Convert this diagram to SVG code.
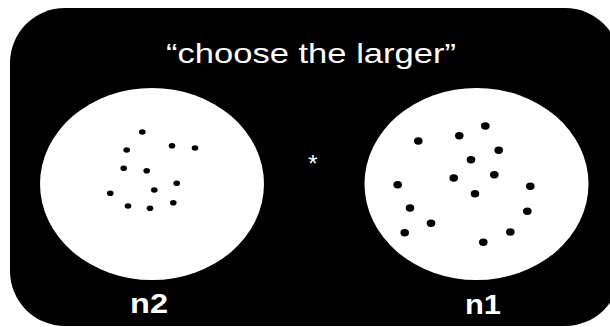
<svg xmlns="http://www.w3.org/2000/svg" width="610" height="327" viewBox="0 0 610 327">
<style>
.bg{fill:#000}
.disc{fill:#fff}
.d{fill:#000}
.title{font-family:"Liberation Sans",Arial,sans-serif;font-size:28px;fill:#fff}
.lbl{font-family:"Liberation Sans",Arial,sans-serif;font-size:28px;font-weight:bold;fill:#fff}
</style>
<rect width="610" height="327" fill="#fff"/>
<rect class="bg" x="10" y="8" width="610" height="318" rx="55" ry="55"/>
<text class="title" x="166" y="63" textLength="290" lengthAdjust="spacingAndGlyphs">“choose the larger”</text>
<g id="n2">
<ellipse class="disc" cx="152" cy="184" rx="112" ry="96"/>
<g class="d">
<ellipse cx="142.3" cy="132" rx="3.3" ry="2.8"/>
<ellipse cx="126.7" cy="150" rx="3.3" ry="2.8"/>
<ellipse cx="172" cy="145.7" rx="3.3" ry="2.8"/>
<ellipse cx="195" cy="148" rx="3.3" ry="2.8"/>
<ellipse cx="123.7" cy="168.3" rx="3.3" ry="2.8"/>
<ellipse cx="146.7" cy="170.7" rx="3.3" ry="2.8"/>
<ellipse cx="176.7" cy="183.3" rx="3.3" ry="2.8"/>
<ellipse cx="154.3" cy="190" rx="3.3" ry="2.8"/>
<ellipse cx="110.3" cy="193.3" rx="3.3" ry="2.8"/>
<ellipse cx="128" cy="206" rx="3.3" ry="2.8"/>
<ellipse cx="150" cy="208.3" rx="3.3" ry="2.8"/>
<ellipse cx="173.3" cy="202.7" rx="3.3" ry="2.8"/>
</g>
<text class="lbl" x="130" y="313" textLength="38" lengthAdjust="spacingAndGlyphs">n2</text>
</g>
<g id="n1">
<ellipse class="disc" cx="476.5" cy="184" rx="112" ry="96"/>
<g class="d">
<ellipse cx="485.3" cy="126" rx="4.3" ry="3.7"/>
<ellipse cx="418.3" cy="141" rx="4.3" ry="3.7"/>
<ellipse cx="459.3" cy="135.7" rx="4.3" ry="3.7"/>
<ellipse cx="498.7" cy="150.3" rx="4.3" ry="3.7"/>
<ellipse cx="471" cy="159.7" rx="4.3" ry="3.7"/>
<ellipse cx="453.7" cy="178" rx="4.3" ry="3.7"/>
<ellipse cx="494.3" cy="174.7" rx="4.3" ry="3.7"/>
<ellipse cx="397.7" cy="184.7" rx="4.3" ry="3.7"/>
<ellipse cx="475" cy="193.7" rx="4.3" ry="3.7"/>
<ellipse cx="530.3" cy="186.3" rx="4.3" ry="3.7"/>
<ellipse cx="410" cy="208" rx="4.3" ry="3.7"/>
<ellipse cx="527.3" cy="211.3" rx="4.3" ry="3.7"/>
<ellipse cx="431" cy="223.3" rx="4.3" ry="3.7"/>
<ellipse cx="404.7" cy="232.7" rx="4.3" ry="3.7"/>
<ellipse cx="510.3" cy="232" rx="4.3" ry="3.7"/>
<ellipse cx="483.3" cy="242.3" rx="4.3" ry="3.7"/>
</g>
<text class="lbl" x="465" y="314" textLength="36" lengthAdjust="spacingAndGlyphs">n1</text>
</g>
<g id="fixation">
<text class="title" x="313" y="172" text-anchor="middle" style="font-size:24px">*</text>
</g>
<g id="connectors"/>
</svg>
